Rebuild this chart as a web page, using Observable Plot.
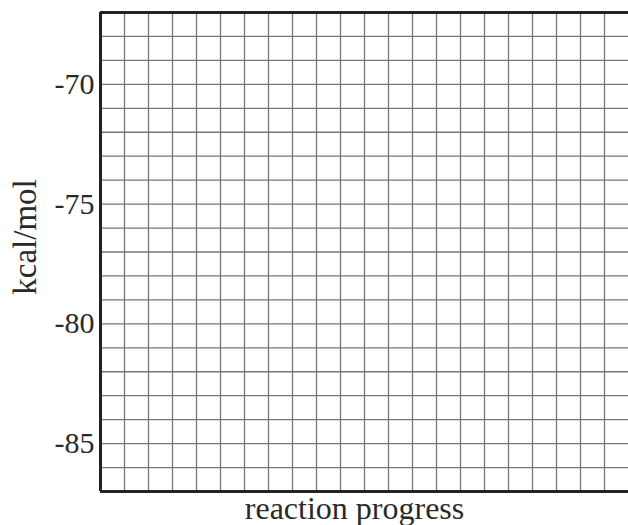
<!DOCTYPE html>
<html>
<head>
<meta charset="utf-8">
<script src="https://cdn.jsdelivr.net/npm/d3@7"></script>
<script src="https://cdn.jsdelivr.net/npm/@observablehq/plot@0.6"></script>
<style>
  html, body { margin: 0; padding: 0; background: #fff; }
  svg { display: block; }
</style>
</head>
<body>
<div id="chart"></div>
<script>
const xDomain = [0, 22];
const yDomain = [-87, -67];
const yTickLabels = [-85, -80, -75, -70];
const xGridLines = d3.range(1, 22);
const yGridLines = d3.range(-86, -67);
const xLabel = "reaction progress";
const yLabel = "kcal/mol";

const chart = Plot.plot({
  width: 628,
  height: 525,
  marginLeft: 100,
  marginRight: 0,
  marginTop: 12,
  marginBottom: 34,
  style: {fontFamily: "'Liberation Serif', 'Times New Roman', serif", background: "#fff"},
  x: {domain: xDomain, axis: null},
  y: {domain: yDomain, axis: null},
  marks: [
    Plot.ruleX(xGridLines, {stroke: "#777", strokeWidth: 1.3}),
    Plot.ruleY(yGridLines, {stroke: "#777", strokeWidth: 1.3}),
    Plot.ruleX([xDomain[0]], {stroke: "#222", strokeWidth: 3}),
    Plot.ruleY([yDomain[0], yDomain[1]], {stroke: "#222", strokeWidth: 3}),
    Plot.axisY(yTickLabels, {tickSize: 0, tickPadding: 6, fontSize: 30, fill: "#2a2a2a", label: null, tickFormat: d => "-" + Math.abs(d)}),
    Plot.text([yLabel], {frameAnchor: "left", textAnchor: "middle", rotate: -90, dx: -75, dy: -15, fontSize: 33, fill: "#2a2a2a"}),
    Plot.text([xLabel], {frameAnchor: "bottom", dy: 27, dx: -10, fontSize: 32, fill: "#2a2a2a"})
  ]
});
document.getElementById("chart").appendChild(chart);
</script>
</body>
</html>
